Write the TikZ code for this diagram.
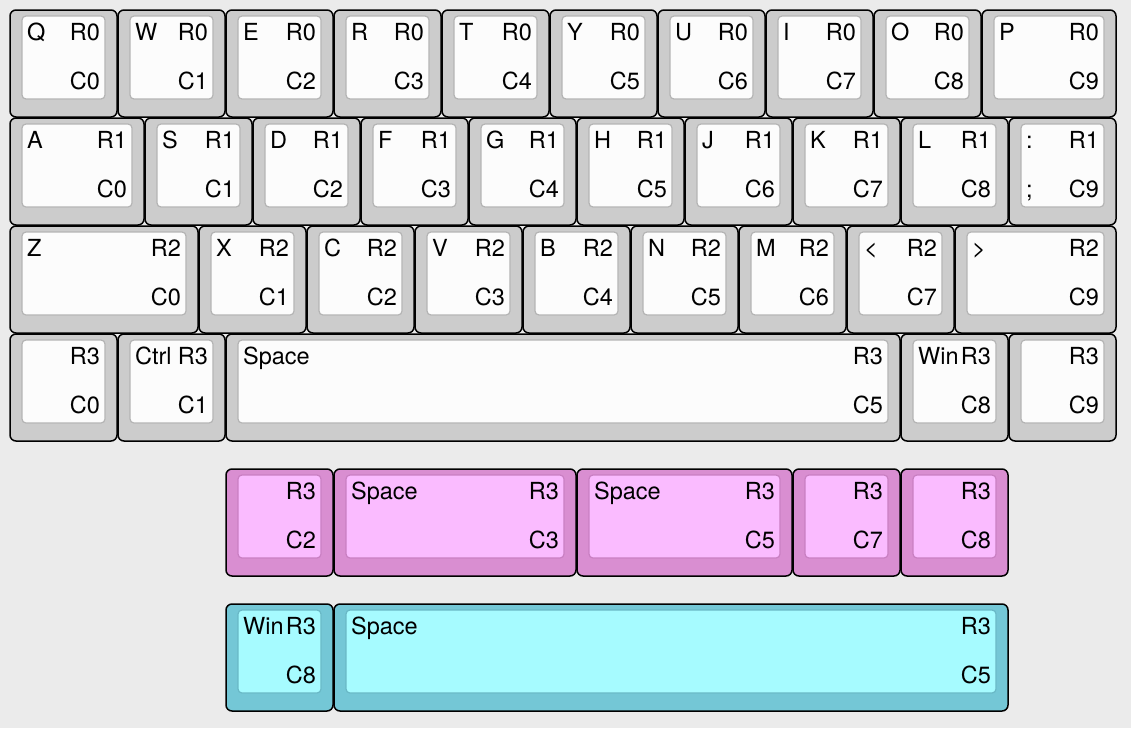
\documentclass[tikz,border=0pt]{standalone}
\usepackage{fontspec}
\setmainfont{TeX Gyre Heros}
\usetikzlibrary{calc}

\definecolor{bgcol}{HTML}{EBEBEB}
\definecolor{greyout}{HTML}{CCCCCC}
\definecolor{greyin}{HTML}{FCFCFC}
\definecolor{greyline}{HTML}{B4B4B4}
\definecolor{pinkout}{HTML}{D98ED1}
\definecolor{pinkin}{HTML}{FABBFF}
\definecolor{pinkline}{HTML}{C97FC2}
\definecolor{cyanout}{HTML}{74C7D6}
\definecolor{cyanin}{HTML}{A6FBFF}
\definecolor{cyanline}{HTML}{69B8C6}

\tikzstyle{keyouter}=[draw=black,line width=1.5pt,rounded corners=6pt,inner sep=0pt]
\tikzstyle{keyinner}=[line width=1.2pt,rounded corners=4pt,inner sep=0pt]
\tikzstyle{legend}=[font=\fontsize{23.5}{23.5}\selectfont,inner sep=0pt]
\newcommand{\kunit}{108}

% name, x, y, width (in key units), colour, legends tl/tr/bl/br
\newcommand{\keycap}[9]{
    \node[keyouter, fill=#5out, minimum width={(\kunit*#4-1)*1pt}, minimum height=107pt]
        (#1) at ({10+\kunit*#2+\kunit*#4/2-0.5}, {10+\kunit*#3+53.5}) {};
    \node[keyinner, draw=#5line, fill=#5in, minimum width={(\kunit*#4-25)*1pt}, minimum height=83pt]
        (#1-in) at ($(#1.center)+(0,-6)$) {};
    \node[legend, anchor=base west] (#1-tl) at ($(#1-in.north west)+(5.5,25)$) {#6};
    \node[legend, anchor=base east] (#1-tr) at ($(#1-in.north east)+(-5.5,25)$) {#7};
    \node[legend, anchor=base west] (#1-bl) at ($(#1-in.south west)+(5.5,-10)$) {#8};
    \node[legend, anchor=base east] (#1-br) at ($(#1-in.south east)+(-5.5,-10)$) {#9};
}

\begin{document}
\begin{tikzpicture}[x=1pt, y=-1pt]
    \fill[bgcol] (0,0) rectangle (1131,728);
    \useasboundingbox (0,0) rectangle (1131,728);
    % First the four rows of the main block
    \foreach \x/\w/\nm/\tl/\bl/\col in {0/1/kQ/Q//C0, 1/1/kW/W//C1, 2/1/kE/E//C2, 3/1/kR/R//C3,
        4/1/kT/T//C4, 5/1/kY/Y//C5, 6/1/kU/U//C6, 7/1/kI/I//C7, 8/1/kO/O//C8, 9/1.25/kP/P//C9}
        \keycap{\nm}{\x}{0}{\w}{grey}{\tl}{R0}{\bl}{\col};
    \foreach \x/\w/\nm/\tl/\bl/\col in {0/1.25/kA/A//C0, 1.25/1/kS/S//C1, 2.25/1/kD/D//C2,
        3.25/1/kF/F//C3, 4.25/1/kG/G//C4, 5.25/1/kH/H//C5, 6.25/1/kJ/J//C6, 7.25/1/kK/K//C7,
        8.25/1/kL/L//C8, 9.25/1/kcolon/:/;/C9}
        \keycap{\nm}{\x}{1}{\w}{grey}{\tl}{R1}{\bl}{\col};
    \foreach \x/\w/\nm/\tl/\bl/\col in {0/1.75/kZ/Z//C0, 1.75/1/kX/X//C1, 2.75/1/kC/C//C2,
        3.75/1/kV/V//C3, 4.75/1/kB/B//C4, 5.75/1/kN/N//C5, 6.75/1/kM/M//C6, 7.75/1/kless/<//C7,
        8.75/1.5/kmore/>//C9}
        \keycap{\nm}{\x}{2}{\w}{grey}{\tl}{R2}{\bl}{\col};
    \foreach \x/\w/\nm/\tl/\bl/\col in {0/1/kblanka///C0, 1/1/kctrl/Ctrl//C1, 2/6.25/kspace/Space//C5,
        8.25/1/kwin/Win//C8, 9.25/1/kblankb///C9}
        \keycap{\nm}{\x}{3}{\w}{grey}{\tl}{R3}{\bl}{\col};
    % Then the alternative bottom rows
    \foreach \x/\w/\nm/\tl/\bl/\col in {2/1/kaltc2///C2, 3/2.25/kaltc3/Space//C3, 5.25/2/kaltc5/Space//C5,
        7.25/1/kaltc7///C7, 8.25/1/kaltc8///C8}
        \keycap{\nm}{\x}{4.25}{\w}{pink}{\tl}{R3}{\bl}{\col};
    \foreach \x/\w/\nm/\tl/\bl/\col in {2/1/kaltwin/Win//C8, 3/6.25/kaltspace/Space//C5}
        \keycap{\nm}{\x}{5.5}{\w}{cyan}{\tl}{R3}{\bl}{\col};
\end{tikzpicture}
\end{document}
